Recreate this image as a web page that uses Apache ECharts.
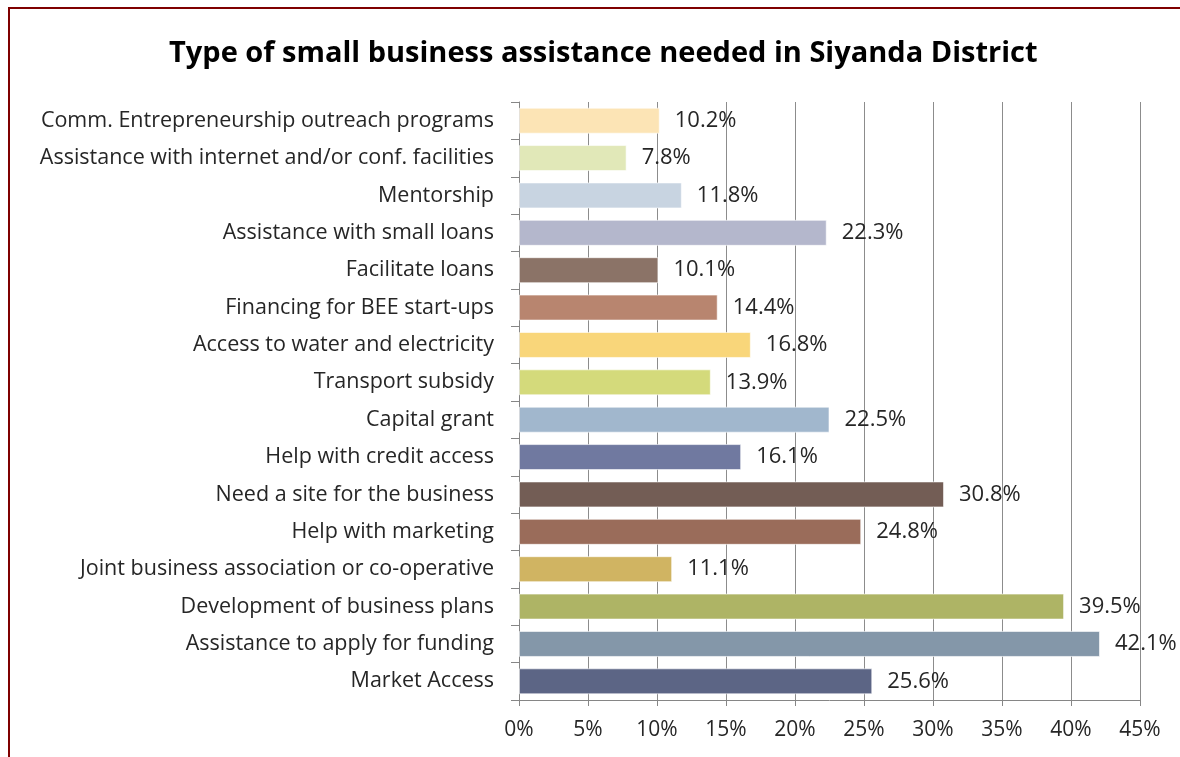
<!DOCTYPE html>
<html>
<head>
<meta charset="utf-8">
<title>Type of small business assistance needed in Siyanda District</title>
<script src="https://cdn.jsdelivr.net/npm/echarts@6/dist/echarts.min.js"></script>
<style>
  html, body { margin: 0; padding: 0; background: #ffffff; }
  #chart { width: 1180px; height: 757px; }
</style>
</head>
<body>
<div id="chart"></div>
<script>
// Categories listed top to bottom as they appear on the chart
const categories = [
  'Comm. Entrepreneurship outreach programs',
  'Assistance with internet and/or conf. facilities',
  'Mentorship',
  'Assistance with small loans',
  'Facilitate loans',
  'Financing for BEE start-ups',
  'Access to water and electricity',
  'Transport subsidy',
  'Capital grant',
  'Help with credit access',
  'Need a site for the business',
  'Help with marketing',
  'Joint business association or co-operative',
  'Development of business plans',
  'Assistance to apply for funding',
  'Market Access'
];

// Share of respondents (%)
const values = [10.2, 7.8, 11.8, 22.3, 10.1, 14.4, 16.8, 13.9, 22.5, 16.1, 30.8, 24.8, 11.1, 39.5, 42.1, 25.6];

// One fill per bar
const barColors = [
  '#fce4b5', '#e1e8b8', '#c8d4e1', '#b4b7cc', '#8b7367', '#b8856f',
  '#f9d67a', '#d4da7b', '#a1b7cd', '#7079a0', '#735d55', '#9a6c5a',
  '#d0b462', '#aeb465', '#8497a9', '#5c6585'
];

const xTicks = { min: 0, max: 45, interval: 5 };

const font = '"Open Sans", Lato, sans-serif';

const chart = echarts.init(document.getElementById('chart'), null, { renderer: 'canvas' });

chart.setOption({
  backgroundColor: '#ffffff',
  animation: false,
  title: {
    text: 'Type of small business assistance needed in Siyanda District',
    left: 164,
    top: 34,
    textStyle: { fontFamily: font, fontWeight: 'bold', fontSize: 29, color: '#000000' }
  },
  graphic: [{
    type: 'rect',
    shape: { x: 9, y: 8, width: 1400, height: 1000 },
    style: { fill: 'none', stroke: '#7f0000', lineWidth: 2 },
    silent: true
  }],
  grid: { left: 519, right: 40, top: 102, bottom: 57, containLabel: false },
  xAxis: {
    type: 'value',
    min: xTicks.min,
    max: xTicks.max,
    interval: xTicks.interval,
    axisLine: { show: true, lineStyle: { color: '#868686', width: 1 } },
    axisTick: { show: true, length: 6, lineStyle: { color: '#868686' } },
    splitLine: { show: true, lineStyle: { color: '#8c8c8c', width: 1 } },
    axisLabel: {
      formatter: '{value}%',
      fontFamily: font,
      fontSize: 21,
      color: '#262626',
      margin: 20
    }
  },
  yAxis: {
    type: 'category',
    data: categories,
    inverse: true,
    axisLine: { show: true, lineStyle: { color: '#868686', width: 1 } },
    axisTick: { show: true, length: 8, lineStyle: { color: '#868686' } },
    axisLabel: {
      fontFamily: font,
      fontSize: 21.5,
      color: '#262626',
      margin: 25,
      padding: [3, 0, 0, 0]
    }
  },
  series: [{
    type: 'bar',
    data: values.map((v, i) => ({ value: v, itemStyle: { color: barColors[i] } })),
    barWidth: 26,
    itemStyle: { borderColor: 'rgba(255,255,255,0.6)', borderWidth: 1 },
    label: {
      show: true,
      position: 'right',
      distance: 15,
      padding: [3, 0, 0, 0],
      formatter: p => p.value.toFixed(1) + '%',
      fontFamily: font,
      fontSize: 22,
      color: '#262626'
    }
  }]
});
</script>
</body>
</html>
